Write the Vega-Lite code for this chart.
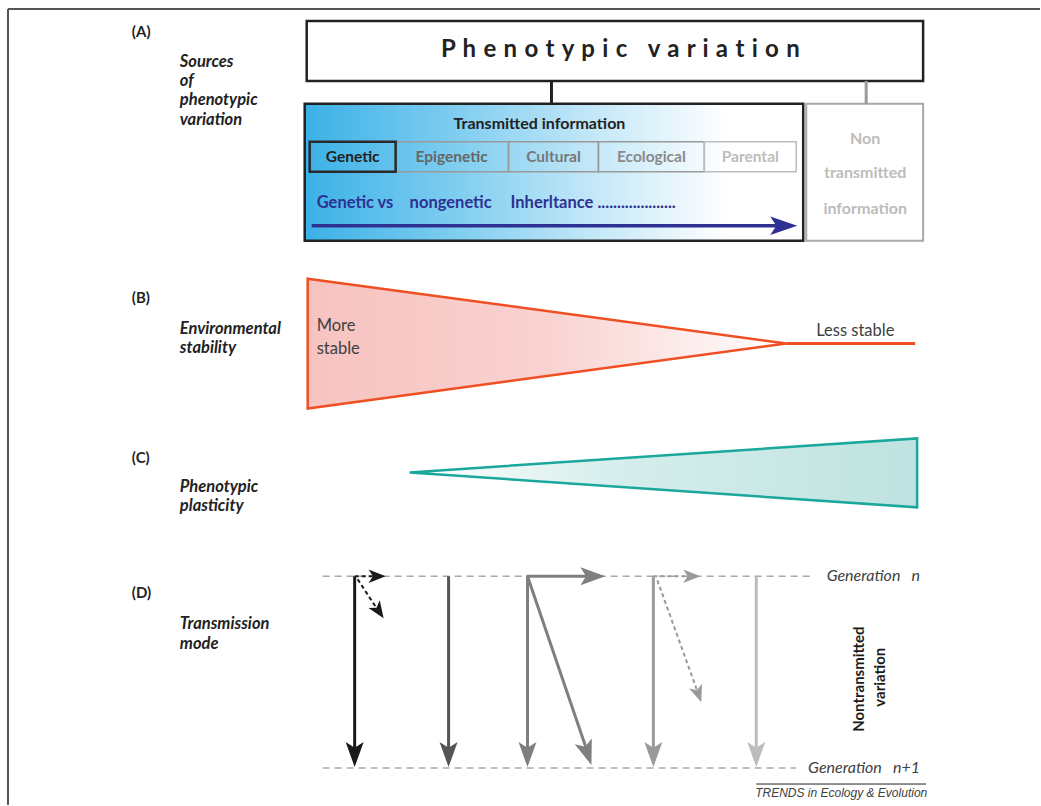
{
  "$schema": "https://vega.github.io/schema/vega-lite/v6.json",
  "width": 1041,
  "height": 806,
  "autosize": {"type": "fit", "contains": "padding"},
  "padding": 0,
  "background": "white",
  "config": {"view": {"stroke": null}, "text": {"font": "Lato"}},
  "datasets": {
    "boxes": [
      {"part": "main", "x": 307, "x2": 924, "y": 21, "y2": 81},
      {"part": "trans", "x": 305, "x2": 804, "y": 104, "y2": 241},
      {"part": "non", "x": 807, "x2": 924, "y": 104, "y2": 241},
      {"part": "cell", "x": 396, "x2": 509, "y": 142, "y2": 172},
      {"part": "cell", "x": 509, "x2": 599, "y": 142, "y2": 172},
      {"part": "cell", "x": 599, "x2": 705, "y": 142, "y2": 172},
      {"part": "cellpale", "x": 705, "x2": 797, "y": 142, "y2": 172},
      {"part": "cellkey", "x": 310, "x2": 396, "y": 142, "y2": 172}
    ],
    "wedges": [
      {"shape": "stability", "x": 308, "y": 279, "y2": 409},
      {"shape": "stability", "x": 787, "y": 344, "y2": 344},
      {"shape": "plasticity", "x": 410, "y": 473, "y2": 473},
      {"shape": "plasticity", "x": 918, "y": 439, "y2": 508}
    ],
    "segments": [
      {"x": 8, "y": 9, "x2": 1041, "y2": 9, "kind": "frame", "line": "frame"},
      {"x": 8, "y": 9, "x2": 8, "y2": 806, "kind": "frame", "line": "frame"},
      {"x": 552, "y": 81, "x2": 552, "y2": 104, "kind": "ink", "line": "thick"},
      {"x": 867, "y": 81, "x2": 867, "y2": 104, "kind": "gray", "line": "thick"},
      {"x": 312, "y": 226, "x2": 780, "y2": 226, "kind": "blue", "line": "bold"},
      {"x": 787, "y": 344, "x2": 916, "y2": 344, "kind": "orange", "line": "thick"},
      {"x": 323, "y": 577, "x2": 815, "y2": 577, "kind": "gen", "line": "gen"},
      {"x": 323, "y": 769, "x2": 797, "y2": 769, "kind": "gen", "line": "gen"},
      {"x": 355, "y": 577, "x2": 355, "y2": 752, "kind": "black", "line": "thick"},
      {"x": 355, "y": 577, "x2": 374, "y2": 577, "kind": "black", "line": "dash"},
      {"x": 358, "y": 580, "x2": 377, "y2": 609, "kind": "black", "line": "dash"},
      {"x": 449, "y": 577, "x2": 449, "y2": 752, "kind": "dark", "line": "thick"},
      {"x": 528, "y": 577, "x2": 528, "y2": 752, "kind": "mid", "line": "thick"},
      {"x": 527, "y": 577, "x2": 590, "y2": 577, "kind": "mid", "line": "thick"},
      {"x": 528, "y": 577, "x2": 587, "y2": 750, "kind": "mid", "line": "thick"},
      {"x": 654, "y": 577, "x2": 654, "y2": 752, "kind": "gray", "line": "thick"},
      {"x": 654, "y": 577, "x2": 690, "y2": 577, "kind": "gray", "line": "dash"},
      {"x": 658, "y": 581, "x2": 698, "y2": 692, "kind": "gray", "line": "dash"},
      {"x": 757, "y": 577, "x2": 757, "y2": 752, "kind": "light", "line": "thick"},
      {"x": 757, "y": 785, "x2": 927, "y2": 785, "kind": "ink", "line": "hair"}
    ],
    "heads": [
      {"x": 798, "y": 226, "angle": 0, "kind": "blue", "head": "xl"},
      {"x": 355, "y": 768, "angle": 90, "kind": "black", "head": "l"},
      {"x": 449, "y": 768, "angle": 90, "kind": "dark", "head": "l"},
      {"x": 528, "y": 768, "angle": 90, "kind": "mid", "head": "l"},
      {"x": 592, "y": 766, "angle": 71, "kind": "mid", "head": "l"},
      {"x": 606, "y": 577, "angle": 0, "kind": "mid", "head": "l"},
      {"x": 654, "y": 768, "angle": 90, "kind": "gray", "head": "l"},
      {"x": 757, "y": 768, "angle": 90, "kind": "light", "head": "l"},
      {"x": 386, "y": 577, "angle": 0, "kind": "black", "head": "s"},
      {"x": 384, "y": 619, "angle": 56, "kind": "black", "head": "s"},
      {"x": 701, "y": 577, "angle": 0, "kind": "gray", "head": "s"},
      {"x": 702, "y": 703, "angle": 70, "kind": "gray", "head": "s"}
    ],
    "labels": [
      {"t": "(A)", "x": 132, "y": 32, "kind": "ink", "font": "panel"},
      {"t": "(B)", "x": 132, "y": 298, "kind": "ink", "font": "panel"},
      {"t": "(C)", "x": 132, "y": 459, "kind": "ink", "font": "panel"},
      {"t": "(D)", "x": 132, "y": 594, "kind": "ink", "font": "panel"},
      {"t": "Sources", "x": 180, "y": 62, "kind": "ink", "font": "side"},
      {"t": "of", "x": 180, "y": 81, "kind": "ink", "font": "side"},
      {"t": "phenotypic", "x": 180, "y": 100, "kind": "ink", "font": "side"},
      {"t": "variation", "x": 180, "y": 120, "kind": "ink", "font": "side"},
      {"t": "Environmental", "x": 180, "y": 329, "kind": "ink", "font": "side"},
      {"t": "stability", "x": 180, "y": 348, "kind": "ink", "font": "side"},
      {"t": "Phenotypic", "x": 180, "y": 488, "kind": "ink", "font": "side"},
      {"t": "plasticity", "x": 180, "y": 507, "kind": "ink", "font": "side"},
      {"t": "Transmission", "x": 180, "y": 625, "kind": "ink", "font": "side"},
      {"t": "mode", "x": 180, "y": 645, "kind": "ink", "font": "side"},
      {"t": "P\u00a0\u200ah\u00a0\u200ae\u00a0\u200an\u00a0\u200ao\u00a0\u200at\u00a0\u200ay\u00a0\u200ap\u00a0\u200ai\u00a0\u200ac\u00a0\u00a0\u00a0\u200a\u200av\u00a0\u200aa\u00a0\u200ar\u00a0\u200ai\u00a0\u200aa\u00a0\u200at\u00a0\u200ai\u00a0\u200ao\u00a0\u200an", "x": 621, "y": 50, "kind": "ink", "font": "title"},
      {"t": "Transmitted information", "x": 540, "y": 124, "kind": "ink", "font": "head"},
      {"t": "Genetic", "x": 353, "y": 157, "kind": "ink", "font": "cell"},
      {"t": "Epigenetic", "x": 452, "y": 157, "kind": "epi", "font": "cell"},
      {"t": "Cultural", "x": 554, "y": 157, "kind": "cul", "font": "cell"},
      {"t": "Ecological", "x": 652, "y": 157, "kind": "eco", "font": "cell"},
      {"t": "Parental", "x": 751, "y": 157, "kind": "light", "font": "cell"},
      {"t": "Non", "x": 866, "y": 139, "kind": "light", "font": "head"},
      {"t": "transmitted", "x": 866, "y": 173, "kind": "light", "font": "head"},
      {"t": "information", "x": 866, "y": 209, "kind": "light", "font": "head"},
      {"t": "Genetic vs", "x": 317, "y": 203, "kind": "blue", "font": "blue"},
      {"t": "nongenetic", "x": 410, "y": 203, "kind": "blue", "font": "blue"},
      {"t": "Inherltance ....................", "x": 511, "y": 203, "kind": "blue", "font": "blue"},
      {"t": "More", "x": 317, "y": 326, "kind": "soft", "font": "plain"},
      {"t": "stable", "x": 317, "y": 349, "kind": "soft", "font": "plain"},
      {"t": "Less stable", "x": 817, "y": 331, "kind": "soft", "font": "plain"},
      {"t": "Generation\u00a0\u00a0\u00a0n", "x": 921, "y": 577, "kind": "soft", "font": "gen"},
      {"t": "Generation\u00a0\u00a0\u00a0n+1", "x": 921, "y": 769, "kind": "soft", "font": "gen"},
      {"t": "Nontransmitted", "x": 860, "y": 680, "kind": "black", "font": "rot"},
      {"t": "variation", "x": 881, "y": 678, "kind": "black", "font": "rot"},
      {"t": "TRENDS in Ecology & Evolution", "x": 842, "y": 794, "kind": "soft", "font": "trends"}
    ]
  },
  "encoding": {
    "x": {"field": "x", "type": "quantitative", "scale": {"domain": [0, 1041], "nice": false, "zero": false}, "axis": null},
    "y": {"field": "y", "type": "quantitative", "scale": {"domain": [0, 806], "nice": false, "zero": false, "reverse": true}, "axis": null}
  },
  "layer": [
    {
      "data": {"name": "boxes"},
      "transform": [{"filter": "datum.part === 'main'"}],
      "mark": {"type": "rect", "fill": "#ffffff", "stroke": "#222222", "strokeWidth": 2.5},
      "encoding": {"x2": {"field": "x2"}, "y2": {"field": "y2"}}
    },
    {
      "data": {"name": "boxes"},
      "transform": [{"filter": "datum.part === 'trans'"}],
      "mark": {"type": "rect", "stroke": "#222222", "strokeWidth": 2.5,
        "fill": {"gradient": "linear", "x1": 0, "y1": 0, "x2": 1, "y2": 0,
          "stops": [
            {"offset": 0, "color": "#3bb1e7"},
            {"offset": 0.3, "color": "#7ecdf0"},
            {"offset": 0.55, "color": "#bde5f7"},
            {"offset": 0.85, "color": "#ffffff"},
            {"offset": 1, "color": "#ffffff"}
          ]}},
      "encoding": {"x2": {"field": "x2"}, "y2": {"field": "y2"}}
    },
    {
      "data": {"name": "boxes"},
      "transform": [{"filter": "datum.part === 'non'"}],
      "mark": {"type": "rect", "fill": "#ffffff", "stroke": "#a8a8a8", "strokeWidth": 2},
      "encoding": {"x2": {"field": "x2"}, "y2": {"field": "y2"}}
    },
    {
      "data": {"name": "boxes"},
      "transform": [{"filter": "datum.part === 'cell'"}],
      "mark": {"type": "rect", "fill": null, "fillOpacity": 0, "stroke": "#9a9a9a", "strokeWidth": 1.5},
      "encoding": {"x2": {"field": "x2"}, "y2": {"field": "y2"}}
    },
    {
      "data": {"name": "boxes"},
      "transform": [{"filter": "datum.part === 'cellpale'"}],
      "mark": {"type": "rect", "fill": null, "fillOpacity": 0, "stroke": "#bdbdbd", "strokeWidth": 1.5},
      "encoding": {"x2": {"field": "x2"}, "y2": {"field": "y2"}}
    },
    {
      "data": {"name": "boxes"},
      "transform": [{"filter": "datum.part === 'cellkey'"}],
      "mark": {"type": "rect", "fill": null, "fillOpacity": 0, "stroke": "#2a2a2a", "strokeWidth": 2.5},
      "encoding": {"x2": {"field": "x2"}, "y2": {"field": "y2"}}
    },
    {
      "data": {"name": "wedges"},
      "transform": [{"filter": "datum.shape === 'stability'"}],
      "mark": {"type": "area", "opacity": 1, "fillOpacity": 1, "stroke": "#f04e23", "strokeWidth": 2.5, "strokeJoin": "miter",
        "fill": {"gradient": "linear", "x1": 0, "y1": 0, "x2": 1, "y2": 0,
          "stops": [
            {"offset": 0, "color": "#f7c3c0"},
            {"offset": 0.5, "color": "#f9d2d0"},
            {"offset": 1, "color": "#ffffff"}
          ]}},
      "encoding": {"y2": {"field": "y2"}}
    },
    {
      "data": {"name": "wedges"},
      "transform": [{"filter": "datum.shape === 'plasticity'"}],
      "mark": {"type": "area", "opacity": 1, "fillOpacity": 1, "stroke": "#1aa79c", "strokeWidth": 2.5, "strokeJoin": "miter",
        "fill": {"gradient": "linear", "x1": 0, "y1": 0, "x2": 1, "y2": 0,
          "stops": [
            {"offset": 0, "color": "#ffffff"},
            {"offset": 0.4, "color": "#d6eeec"},
            {"offset": 1, "color": "#bee3e0"}
          ]}},
      "encoding": {"y2": {"field": "y2"}}
    },
    {
      "data": {"name": "segments"},
      "transform": [{"filter": "datum.line === 'gen'"}],
      "mark": {"type": "rule", "strokeWidth": 1.5, "strokeDash": [7, 5]},
      "encoding": {"x2": {"field": "x2"}, "y2": {"field": "y2"},
        "color": {"field": "kind", "type": "nominal", "legend": null, "scale": {"domain": ["frame","ink","black","dark","mid","gray","light","blue","orange","gen","epi","cul","eco","soft"], "range": ["#555555","#222222","#1a1a1a","#555555","#7f7f7f","#9a9a9a","#bcbcbc","#2e3192","#f04e23","#aaaaaa","#666666","#777777","#8a8a8a","#404040"]}}}
    },
    {
      "data": {"name": "segments"},
      "transform": [{"filter": "datum.line === 'frame'"}],
      "mark": {"type": "rule", "strokeWidth": 2},
      "encoding": {"x2": {"field": "x2"}, "y2": {"field": "y2"},
        "color": {"field": "kind", "type": "nominal", "legend": null, "scale": {"domain": ["frame","ink","black","dark","mid","gray","light","blue","orange","gen","epi","cul","eco","soft"], "range": ["#555555","#222222","#1a1a1a","#555555","#7f7f7f","#9a9a9a","#bcbcbc","#2e3192","#f04e23","#aaaaaa","#666666","#777777","#8a8a8a","#404040"]}}}
    },
    {
      "data": {"name": "segments"},
      "transform": [{"filter": "datum.line === 'hair'"}],
      "mark": {"type": "rule", "strokeWidth": 1},
      "encoding": {"x2": {"field": "x2"}, "y2": {"field": "y2"},
        "color": {"field": "kind", "type": "nominal", "legend": null, "scale": {"domain": ["frame","ink","black","dark","mid","gray","light","blue","orange","gen","epi","cul","eco","soft"], "range": ["#555555","#222222","#1a1a1a","#555555","#7f7f7f","#9a9a9a","#bcbcbc","#2e3192","#f04e23","#aaaaaa","#666666","#777777","#8a8a8a","#404040"]}}}
    },
    {
      "data": {"name": "segments"},
      "transform": [{"filter": "datum.line === 'dash'"}],
      "mark": {"type": "rule", "strokeWidth": 2, "strokeDash": [4, 3]},
      "encoding": {"x2": {"field": "x2"}, "y2": {"field": "y2"},
        "color": {"field": "kind", "type": "nominal", "legend": null, "scale": {"domain": ["frame","ink","black","dark","mid","gray","light","blue","orange","gen","epi","cul","eco","soft"], "range": ["#555555","#222222","#1a1a1a","#555555","#7f7f7f","#9a9a9a","#bcbcbc","#2e3192","#f04e23","#aaaaaa","#666666","#777777","#8a8a8a","#404040"]}}}
    },
    {
      "data": {"name": "segments"},
      "transform": [{"filter": "datum.line === 'thick'"}],
      "mark": {"type": "rule", "strokeWidth": 3},
      "encoding": {"x2": {"field": "x2"}, "y2": {"field": "y2"},
        "color": {"field": "kind", "type": "nominal", "legend": null, "scale": {"domain": ["frame","ink","black","dark","mid","gray","light","blue","orange","gen","epi","cul","eco","soft"], "range": ["#555555","#222222","#1a1a1a","#555555","#7f7f7f","#9a9a9a","#bcbcbc","#2e3192","#f04e23","#aaaaaa","#666666","#777777","#8a8a8a","#404040"]}}}
    },
    {
      "data": {"name": "segments"},
      "transform": [{"filter": "datum.line === 'bold'"}],
      "mark": {"type": "rule", "strokeWidth": 3.5},
      "encoding": {"x2": {"field": "x2"}, "y2": {"field": "y2"},
        "color": {"field": "kind", "type": "nominal", "legend": null, "scale": {"domain": ["frame","ink","black","dark","mid","gray","light","blue","orange","gen","epi","cul","eco","soft"], "range": ["#555555","#222222","#1a1a1a","#555555","#7f7f7f","#9a9a9a","#bcbcbc","#2e3192","#f04e23","#aaaaaa","#666666","#777777","#8a8a8a","#404040"]}}}
    },
    {
      "data": {"name": "heads"},
      "transform": [{"filter": "datum.head === 'xl'"}],
      "mark": {"type": "point", "filled": true, "opacity": 1, "strokeWidth": 0, "size": 729, "shape": "M0,0L-2,-0.68L-1.55,0L-2,0.68Z"},
      "encoding": {"angle": {"field": "angle", "type": "quantitative", "scale": null},
        "color": {"field": "kind", "type": "nominal", "legend": null, "scale": {"domain": ["frame","ink","black","dark","mid","gray","light","blue","orange","gen","epi","cul","eco","soft"], "range": ["#555555","#222222","#1a1a1a","#555555","#7f7f7f","#9a9a9a","#bcbcbc","#2e3192","#f04e23","#aaaaaa","#666666","#777777","#8a8a8a","#404040"]}}}
    },
    {
      "data": {"name": "heads"},
      "transform": [{"filter": "datum.head === 'l'"}],
      "mark": {"type": "point", "filled": true, "opacity": 1, "strokeWidth": 0, "size": 625, "shape": "M0,0L-2,-0.72L-1.55,0L-2,0.72Z"},
      "encoding": {"angle": {"field": "angle", "type": "quantitative", "scale": null},
        "color": {"field": "kind", "type": "nominal", "legend": null, "scale": {"domain": ["frame","ink","black","dark","mid","gray","light","blue","orange","gen","epi","cul","eco","soft"], "range": ["#555555","#222222","#1a1a1a","#555555","#7f7f7f","#9a9a9a","#bcbcbc","#2e3192","#f04e23","#aaaaaa","#666666","#777777","#8a8a8a","#404040"]}}}
    },
    {
      "data": {"name": "heads"},
      "transform": [{"filter": "datum.head === 's'"}],
      "mark": {"type": "point", "filled": true, "opacity": 1, "strokeWidth": 0, "size": 289, "shape": "M0,0L-2,-0.8L-1.5,0L-2,0.8Z"},
      "encoding": {"angle": {"field": "angle", "type": "quantitative", "scale": null},
        "color": {"field": "kind", "type": "nominal", "legend": null, "scale": {"domain": ["frame","ink","black","dark","mid","gray","light","blue","orange","gen","epi","cul","eco","soft"], "range": ["#555555","#222222","#1a1a1a","#555555","#7f7f7f","#9a9a9a","#bcbcbc","#2e3192","#f04e23","#aaaaaa","#666666","#777777","#8a8a8a","#404040"]}}}
    },
    {
      "data": {"name": "labels"},
      "transform": [{"filter": "datum.font === 'panel'"}],
      "mark": {"type": "text", "font": "Lato", "fontWeight": "bold", "fontSize": 15, "align": "left", "baseline": "middle"},
      "encoding": {"text": {"field": "t"},
        "color": {"field": "kind", "type": "nominal", "legend": null, "scale": {"domain": ["frame","ink","black","dark","mid","gray","light","blue","orange","gen","epi","cul","eco","soft"], "range": ["#555555","#222222","#1a1a1a","#555555","#7f7f7f","#9a9a9a","#bcbcbc","#2e3192","#f04e23","#aaaaaa","#666666","#777777","#8a8a8a","#404040"]}}}
    },
    {
      "data": {"name": "labels"},
      "transform": [{"filter": "datum.font === 'side'"}],
      "mark": {"type": "text", "font": "Lato", "fontWeight": "bold", "fontStyle": "italic", "fontSize": 16.5, "align": "left", "baseline": "middle"},
      "encoding": {"text": {"field": "t"},
        "color": {"field": "kind", "type": "nominal", "legend": null, "scale": {"domain": ["frame","ink","black","dark","mid","gray","light","blue","orange","gen","epi","cul","eco","soft"], "range": ["#555555","#222222","#1a1a1a","#555555","#7f7f7f","#9a9a9a","#bcbcbc","#2e3192","#f04e23","#aaaaaa","#666666","#777777","#8a8a8a","#404040"]}}}
    },
    {
      "data": {"name": "labels"},
      "transform": [{"filter": "datum.font === 'title'"}],
      "mark": {"type": "text", "font": "Lato", "fontWeight": "bold", "fontSize": 24, "align": "center", "baseline": "middle"},
      "encoding": {"text": {"field": "t"},
        "color": {"field": "kind", "type": "nominal", "legend": null, "scale": {"domain": ["frame","ink","black","dark","mid","gray","light","blue","orange","gen","epi","cul","eco","soft"], "range": ["#555555","#222222","#1a1a1a","#555555","#7f7f7f","#9a9a9a","#bcbcbc","#2e3192","#f04e23","#aaaaaa","#666666","#777777","#8a8a8a","#404040"]}}}
    },
    {
      "data": {"name": "labels"},
      "transform": [{"filter": "datum.font === 'head'"}],
      "mark": {"type": "text", "font": "Lato", "fontWeight": "bold", "fontSize": 16, "align": "center", "baseline": "middle"},
      "encoding": {"text": {"field": "t"},
        "color": {"field": "kind", "type": "nominal", "legend": null, "scale": {"domain": ["frame","ink","black","dark","mid","gray","light","blue","orange","gen","epi","cul","eco","soft"], "range": ["#555555","#222222","#1a1a1a","#555555","#7f7f7f","#9a9a9a","#bcbcbc","#2e3192","#f04e23","#aaaaaa","#666666","#777777","#8a8a8a","#404040"]}}}
    },
    {
      "data": {"name": "labels"},
      "transform": [{"filter": "datum.font === 'cell'"}],
      "mark": {"type": "text", "font": "Lato", "fontWeight": "bold", "fontSize": 15.5, "align": "center", "baseline": "middle"},
      "encoding": {"text": {"field": "t"},
        "color": {"field": "kind", "type": "nominal", "legend": null, "scale": {"domain": ["frame","ink","black","dark","mid","gray","light","blue","orange","gen","epi","cul","eco","soft"], "range": ["#555555","#222222","#1a1a1a","#555555","#7f7f7f","#9a9a9a","#bcbcbc","#2e3192","#f04e23","#aaaaaa","#666666","#777777","#8a8a8a","#404040"]}}}
    },
    {
      "data": {"name": "labels"},
      "transform": [{"filter": "datum.font === 'blue'"}],
      "mark": {"type": "text", "font": "Lato", "fontWeight": "bold", "fontSize": 16.5, "align": "left", "baseline": "middle"},
      "encoding": {"text": {"field": "t"},
        "color": {"field": "kind", "type": "nominal", "legend": null, "scale": {"domain": ["frame","ink","black","dark","mid","gray","light","blue","orange","gen","epi","cul","eco","soft"], "range": ["#555555","#222222","#1a1a1a","#555555","#7f7f7f","#9a9a9a","#bcbcbc","#2e3192","#f04e23","#aaaaaa","#666666","#777777","#8a8a8a","#404040"]}}}
    },
    {
      "data": {"name": "labels"},
      "transform": [{"filter": "datum.font === 'plain'"}],
      "mark": {"type": "text", "font": "Lato", "fontSize": 16.5, "align": "left", "baseline": "middle"},
      "encoding": {"text": {"field": "t"},
        "color": {"field": "kind", "type": "nominal", "legend": null, "scale": {"domain": ["frame","ink","black","dark","mid","gray","light","blue","orange","gen","epi","cul","eco","soft"], "range": ["#555555","#222222","#1a1a1a","#555555","#7f7f7f","#9a9a9a","#bcbcbc","#2e3192","#f04e23","#aaaaaa","#666666","#777777","#8a8a8a","#404040"]}}}
    },
    {
      "data": {"name": "labels"},
      "transform": [{"filter": "datum.font === 'gen'"}],
      "mark": {"type": "text", "font": "Lato", "fontStyle": "italic", "fontSize": 16, "align": "right", "baseline": "middle"},
      "encoding": {"text": {"field": "t"},
        "color": {"field": "kind", "type": "nominal", "legend": null, "scale": {"domain": ["frame","ink","black","dark","mid","gray","light","blue","orange","gen","epi","cul","eco","soft"], "range": ["#555555","#222222","#1a1a1a","#555555","#7f7f7f","#9a9a9a","#bcbcbc","#2e3192","#f04e23","#aaaaaa","#666666","#777777","#8a8a8a","#404040"]}}}
    },
    {
      "data": {"name": "labels"},
      "transform": [{"filter": "datum.font === 'rot'"}],
      "mark": {"type": "text", "font": "Lato", "fontWeight": "bold", "fontSize": 15, "align": "center", "baseline": "middle", "angle": 270},
      "encoding": {"text": {"field": "t"},
        "color": {"field": "kind", "type": "nominal", "legend": null, "scale": {"domain": ["frame","ink","black","dark","mid","gray","light","blue","orange","gen","epi","cul","eco","soft"], "range": ["#555555","#222222","#1a1a1a","#555555","#7f7f7f","#9a9a9a","#bcbcbc","#2e3192","#f04e23","#aaaaaa","#666666","#777777","#8a8a8a","#404040"]}}}
    },
    {
      "data": {"name": "labels"},
      "transform": [{"filter": "datum.font === 'trends'"}],
      "mark": {"type": "text", "font": "Liberation Sans", "fontStyle": "italic", "fontSize": 12, "align": "center", "baseline": "middle"},
      "encoding": {"text": {"field": "t"},
        "color": {"field": "kind", "type": "nominal", "legend": null, "scale": {"domain": ["frame","ink","black","dark","mid","gray","light","blue","orange","gen","epi","cul","eco","soft"], "range": ["#555555","#222222","#1a1a1a","#555555","#7f7f7f","#9a9a9a","#bcbcbc","#2e3192","#f04e23","#aaaaaa","#666666","#777777","#8a8a8a","#404040"]}}}
    }
  ]
}
